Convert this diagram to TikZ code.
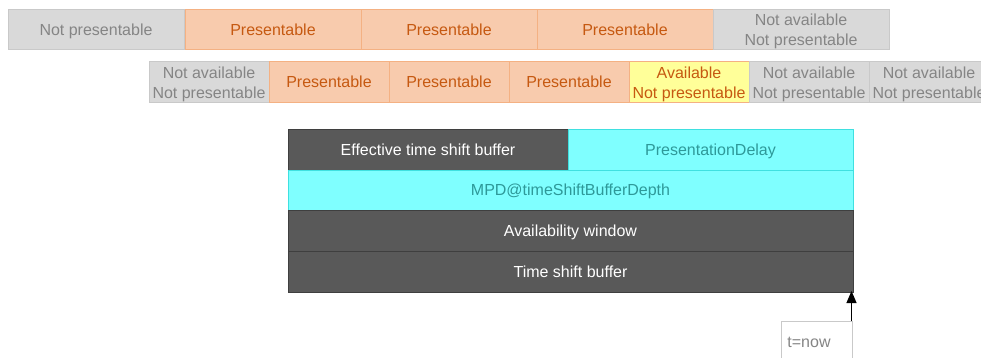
\documentclass[tikz,border=0pt]{standalone}
\usepackage{fontspec}
\setmainfont{Liberation Sans}
\usetikzlibrary{arrows.meta}
\definecolor{gfill}{HTML}{D9D9D9}
\definecolor{gline}{HTML}{C9C9C9}
\definecolor{gtext}{HTML}{858585}
\definecolor{ofill}{HTML}{F8CBAD}
\definecolor{oline}{HTML}{F4B183}
\definecolor{otext}{HTML}{C65911}
\definecolor{yfill}{HTML}{FFFF99}
\definecolor{dfill}{HTML}{595959}
\definecolor{dline}{HTML}{3F3F3F}
\definecolor{cfill}{HTML}{7FFFFF}
\definecolor{cline}{HTML}{3FE0E0}
\definecolor{ctext}{HTML}{2E9999}
\begin{document}
\begin{tikzpicture}[x=1pt,y=-1pt,
  cell/.style={anchor=north west,inner sep=0pt,outer sep=0pt,line width=1pt,
    align=center,font=\fontsize{16}{20}\selectfont},
  one/.style={text height=14pt,text depth=3pt},
  two/.style={text depth=0pt},
  gcell/.style={cell,fill=gfill,draw=gline,text=gtext},
  ocell/.style={cell,fill=ofill,draw=oline,text=otext},
  ycell/.style={cell,fill=yfill,draw=oline,text=otext},
  dcell/.style={cell,one,fill=dfill,draw=dline,text=white},
  ccell/.style={cell,one,fill=cfill,draw=cline,text=ctext},
  w1/.style={minimum width=176pt,minimum height=40pt},
  w2/.style={minimum width=120pt,minimum height=41pt}]
\useasboundingbox (0,0) rectangle (981,358);
% row 1
\node[gcell,one,w1] (a1) at (8,10) {Not presentable};
\node[ocell,one,w1] (a2) at (185,10) {Presentable};
\node[ocell,one,w1] (a3) at (361,10) {Presentable};
\node[ocell,one,w1] (a4) at (537,10) {Presentable};
\node[gcell,two,w1] (a5) at (713,10) {Not available\\Not presentable};
% row 2
\node[gcell,two,w2] (b1) at (149,62) {Not available\\Not presentable};
\node[ocell,one,w2] (b2) at (269,62) {Presentable};
\node[ocell,one,w2] (b3) at (389,62) {Presentable};
\node[ocell,one,w2] (b4) at (509,62) {Presentable};
\node[ycell,two,w2] (b5) at (629,62) {Available\\Not presentable};
\node[gcell,two,w2] (b6) at (749,62) {Not available\\Not presentable};
\node[gcell,two,w2] (b7) at (869,62) {Not available\\Not presentable};
% block
\node[dcell,minimum width=280pt,minimum height=40pt] (e) at (288,130) {Effective time shift buffer};
\node[ccell,minimum width=285pt,minimum height=40pt] (p) at (568,130) {PresentationDelay};
\node[ccell,minimum width=565pt,minimum height=40pt] (m) at (288,170) {MPD@timeShiftBufferDepth};
\node[dcell,minimum width=565pt,minimum height=41pt] (av) at (288,210) {Availability window};
\node[dcell,minimum width=565pt,minimum height=41pt] (ts) at (288,251) {Time shift buffer};
% t=now
\node[anchor=north west,draw=gline,line width=1pt,fill=white,minimum width=71pt,minimum height=40pt,
  text=gtext,font=\fontsize{16}{20}\selectfont,inner sep=0pt,text height=14pt,text depth=3pt] (now) at (781,321) {t=now\hspace*{16pt}};
\coordinate (nowtop) at ([xshift=-1.5pt]now.north east);
\coordinate (tsb) at ([xshift=-1.5pt]ts.south east);
\draw[line width=1.2pt,-{Triangle[length=12pt,width=10pt]}] (nowtop) -- ([yshift=1pt]tsb);
\end{tikzpicture}
\end{document}
